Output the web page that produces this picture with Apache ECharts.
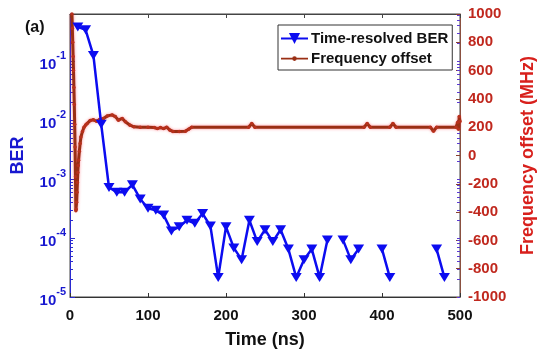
<!DOCTYPE html>
<html>
<head>
<meta charset="utf-8">
<script src="https://cdn.jsdelivr.net/npm/echarts@6/dist/echarts.min.js"></script>
<style>html,body{margin:0;padding:0;background:#fff}#c{width:550px;height:357px}</style>
</head>
<body>
<div id="c"></div>
<script>
// ---- data ----
const berTime = [10,20,30,40,50,60,70,80,90,100,110,120,130,140,150,160,170,180,190,200,210,220,230,240,250,260,270,280,290,300,310,320,330,340,350,360,370,380,390,400,410,420,430,440,450,460,470,480];
const berValue = [0.38,0.34,0.125,0.0085,7.2e-4,6.0e-4,6.0e-4,8.0e-4,4.6e-4,3.2e-4,2.95e-4,2.45e-4,1.32e-4,1.55e-4,2.0e-4,1.78e-4,2.6e-4,1.6e-4,2.15e-5,1.55e-4,6.8e-5,4.3e-5,2.0e-4,8.7e-5,1.38e-4,8.7e-5,1.38e-4,6.5e-5,2.15e-5,4.3e-5,6.5e-5,2.15e-5,9.3e-5,null,9.3e-5,4.3e-5,6.5e-5,null,null,6.5e-5,2.15e-5,null,null,null,null,null,6.5e-5,2.15e-5];
const freqTime = [2.5,3,3.5,4,4.5,5,5.5,6,6.5,7,7.5,8,8.5,9,9.5,10,10.5,11,12,13,14,16,18,20,22,26,30,34,38,43,48,54,58,62,67,71,77,82,90,100,108,112,116,120,124,128,132,140,148,152,156,229,233,237,377,381,385,410,414,418,462,466,470,495,497,498,499,500];
const freqValue = [1000,900,800,700,600,480,360,220,60,-150,-390,-380,-330,-260,-190,-120,-70,-33,30,85,130,170,200,215,226,248,252,242,255,262,280,287,275,250,262,238,214,203,200,200,198,190,197,190,200,180,170,170,172,185,200,200,226,200,200,226,200,200,226,200,200,172,200,200,235,185,275,240];
const xTicks = [0,100,200,300,400,500];
const berMajor = [1e-5,1e-4,1e-3,1e-2,1e-1];
const freqTicks = [-1000,-800,-600,-400,-200,0,200,400,600,800,1000];

const minorLog = [];
berMajor.forEach(function(m){ for (let k=2;k<=9;k++){ const v=m*k; if (v<=0.63) minorLog.push(v); } });

const FF = "'Liberation Sans', Arial, sans-serif";
const BLUE = '#0c0cf0';
const BLUE_TXT = '#1818d0';
const RED_TXT = '#c0281e';
const BROWN = '#9a2f14';

const chart = echarts.init(document.getElementById('c'), null, {renderer:'canvas'});
chart.setOption({
  animation:false,
  backgroundColor:'#fff',
  title:{text:'(a)', left:20, top:15, textStyle:{fontSize:16, fontWeight:'bold', color:'#111', fontFamily:FF}},
  grid:{left:70, right:90, top:14, bottom:60, show:true, borderColor:'#444', borderWidth:1, backgroundColor:'transparent'},
  legend:{
    orient:'vertical', left:278, top:25, itemWidth:27, itemHeight:14, itemGap:5,
    padding:[6,4,4,2], borderColor:'#333', borderWidth:1, borderRadius:0, backgroundColor:'#fff',
    textStyle:{fontSize:15, fontWeight:'bold', color:'#111', fontFamily:FF, padding:[0,0,0,-2]},
    data:[
      {name:'Time-resolved BER'},
      {name:'Frequency offset',
       icon:'path://M0,0M27,14M0,6.2h27v1.8h-27zM11.2,7.1a2.3,2.3 0 1,1 4.6,0a2.3,2.3 0 1,1 -4.6,0z',
       itemStyle:{color:BROWN}}
    ]
  },
  xAxis:[{
    type:'value', min:0, max:500, interval:100, position:'bottom',
    name:'Time (ns)', nameLocation:'middle', nameGap:34,
    nameTextStyle:{fontSize:18, fontWeight:'bold', color:'#111', fontFamily:FF},
    axisLine:{show:true, onZero:false, lineStyle:{color:'#333', width:1}},
    axisTick:{show:true, inside:true, length:4, lineStyle:{color:'#333'}},
    axisLabel:{show:true, margin:11, fontSize:15, fontWeight:'bold', color:'#111', fontFamily:FF, customValues:xTicks},
    splitLine:{show:false}
  },{
    type:'value', min:0, max:500, interval:100, position:'top',
    axisLine:{show:true, onZero:false, lineStyle:{color:'#444'}},
    axisTick:{show:true, inside:true, length:4, lineStyle:{color:'#444'}},
    axisLabel:{show:false}, splitLine:{show:false}
  }],
  yAxis:[{
    type:'log', logBase:10, min:1e-5, max:0.63, position:'left',
    name:'BER', nameLocation:'middle', nameGap:43, nameRotate:90,
    nameTextStyle:{fontSize:18, fontWeight:'bold', color:BLUE_TXT, fontFamily:FF},
    axisLine:{show:true, onZero:false, lineStyle:{color:'#2a2ad0', width:1}},
    axisTick:{show:true, inside:true, length:5, lineStyle:{color:'#2a2ad0'}, customValues:berMajor},
    axisLabel:{
      show:true, margin:4, customValues:berMajor,
      formatter:function(v){ return '{b|10}{s|' + Math.round(Math.log10(v)) + '}'; },
      rich:{
        b:{fontSize:15, fontWeight:'bold', color:BLUE_TXT, fontFamily:FF, lineHeight:22, verticalAlign:'bottom'},
        s:{fontSize:11, fontWeight:'bold', color:BLUE_TXT, fontFamily:FF, verticalAlign:'top'}
      }
    },
    splitLine:{show:false}
  },{
    type:'value', min:-1000, max:1000, interval:200, position:'right',
    name:'Frequency offset (MHz)', nameLocation:'middle', nameGap:59, nameRotate:90,
    nameTextStyle:{fontSize:18, fontWeight:'bold', color:'#d8201c', fontFamily:FF},
    axisLine:{show:true, onZero:false, lineStyle:{color:'#8a5040', width:1}},
    axisTick:{show:true, inside:true, length:4, lineStyle:{color:'#8a4030'}},
    axisLabel:{show:true, margin:8, fontSize:15, fontWeight:'bold', color:RED_TXT, fontFamily:FF,
      customValues:freqTicks, formatter:function(v){return String(v);}},
    splitLine:{show:false}
  },{
    type:'log', logBase:10, min:1e-5, max:0.63, position:'left',
    axisLine:{show:false, onZero:false}, axisLabel:{show:false}, splitLine:{show:false},
    axisTick:{show:true, inside:true, length:3, lineStyle:{color:'#2a2ad0'}, customValues:minorLog}
  },{
    type:'log', logBase:10, min:1e-5, max:0.63, position:'right',
    axisLine:{show:false, onZero:false}, axisLabel:{show:false}, splitLine:{show:false},
    axisTick:{show:true, inside:true, length:3, lineStyle:{color:'#5a3ad0'}, customValues:minorLog.concat(berMajor)}
  }],
  series:[{
    name:'Frequency offset', type:'line', xAxisIndex:0, yAxisIndex:1, z:2,
    data:freqTime.map(function(t,i){return [t, freqValue[i]];}),
    symbol:'circle', symbolSize:3.5, showSymbol:true,
    itemStyle:{color:'#b8301c'},
    lineStyle:{color:BROWN, width:3, shadowColor:'rgba(255,40,60,0.55)', shadowBlur:3}
  },{
    name:'Time-resolved BER', type:'line', xAxisIndex:0, yAxisIndex:0, z:3,
    data:berTime.map(function(t,i){return [t, berValue[i]===null ? '-' : berValue[i]];}),
    connectNulls:false,
    symbol:'triangle', symbolRotate:180, symbolSize:[11,9], showSymbol:true,
    itemStyle:{color:BLUE},
    lineStyle:{color:BLUE, width:2.5}
  }]
});
</script>
</body>
</html>
